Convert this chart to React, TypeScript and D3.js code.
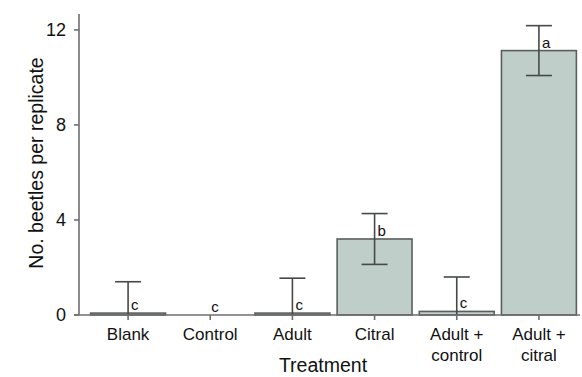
import React from "react";
import * as d3 from "d3";

const categories = ["Blank", "Control", "Adult", "Citral", "Adult +\ncontrol", "Adult +\ncitral"];
const means = [0.08, 0, 0.08, 3.2, 0.15, 11.13];
const errors = [1.32, 0, 1.47, 1.07, 1.45, 1.05];
const letters = ["c", "c", "c", "b", "c", "a"];
const yTicks = [0, 4, 8, 12];

const W = 582;
const H = 377;
const FONT = "'Liberation Sans', Arial, Helvetica, sans-serif";

export default function App() {
  const x = d3.scaleBand<string>().domain(categories).range([87, 580]).paddingInner(0.088).paddingOuter(0.044);
  const y = d3.scaleLinear().domain([0, 12.67]).range([315, 14]);
  const axisColor = "#6e6e6e";
  const barStroke = "#5a5f5d";
  const errColor = "#454a48";
  const capHalf = 13;

  return (
    <svg width={W} height={H} style={{ position: "absolute", left: 0, top: 0, fontFamily: FONT }}>
      <rect width={W} height={H} fill="#fff" />
      {/* bars */}
      {categories.map((c, i) => {
        if (means[i] <= 0) return null;
        const x0 = x(c)!;
        return (
          <rect key={"b" + i} x={x0} y={y(means[i])} width={x.bandwidth()} height={y(0) - y(means[i])}
            fill="#c0ceca" stroke={barStroke} strokeWidth={1.6} />
        );
      })}
      {/* error bars */}
      {categories.map((c, i) => {
        if (errors[i] <= 0) return null;
        const cx = x(c)! + x.bandwidth() / 2;
        const hi = means[i] + errors[i];
        const lo = means[i] - errors[i];
        return (
          <g key={"e" + i} stroke={errColor} strokeWidth={1.6}>
            <line x1={cx} x2={cx} y1={y(hi)} y2={y(Math.max(lo, 0))} />
            <line x1={cx - capHalf} x2={cx + capHalf} y1={y(hi)} y2={y(hi)} />
            {lo > 0 && <line x1={cx - capHalf} x2={cx + capHalf} y1={y(lo)} y2={y(lo)} />}
          </g>
        );
      })}
      {/* letters */}
      {categories.map((c, i) => {
        const cx = x(c)! + x.bandwidth() / 2;
        return (
          <text key={"l" + i} x={cx + (errors[i] > 0 ? 3 : 1)} y={y(means[i]) - 3} fontSize={15} fill="#111">
            {letters[i]}
          </text>
        );
      })}
      {/* y axis */}
      <line x1={79} x2={79} y1={y(12.67)} y2={y(0)} stroke={axisColor} strokeWidth={1.6} />
      {yTicks.map((t) => (
        <g key={"yt" + t}>
          <line x1={74} x2={79} y1={y(t)} y2={y(t)} stroke={axisColor} strokeWidth={1.6} />
          <text x={66} y={y(t)} dy="0.35em" textAnchor="end" fontSize={18} fill="#111">{t}</text>
        </g>
      ))}
      {/* x axis */}
      <line x1={74} x2={580} y1={y(0)} y2={y(0)} stroke={axisColor} strokeWidth={1.6} />
      {categories.map((c, i) => {
        const cx = x(c)! + x.bandwidth() / 2;
        const lines = c.split("\n");
        return (
          <g key={"xt" + i}>
            <line x1={cx} x2={cx} y1={y(0)} y2={y(0) + 5} stroke={axisColor} strokeWidth={1.6} />
            <text x={cx} y={340} textAnchor="middle" fontSize={17} fill="#111">
              {lines.map((l, j) => (
                <tspan key={j} x={cx} dy={j === 0 ? 0 : 21}>{l}</tspan>
              ))}
            </text>
          </g>
        );
      })}
      {/* axis titles */}
      <text x={323} y={372} textAnchor="middle" fontSize={19.5} fill="#111">Treatment</text>
      <text transform={`translate(43,163) rotate(-90)`} textAnchor="middle" fontSize={19.5} fill="#111">
        No. beetles per replicate
      </text>
    </svg>
  );
}
